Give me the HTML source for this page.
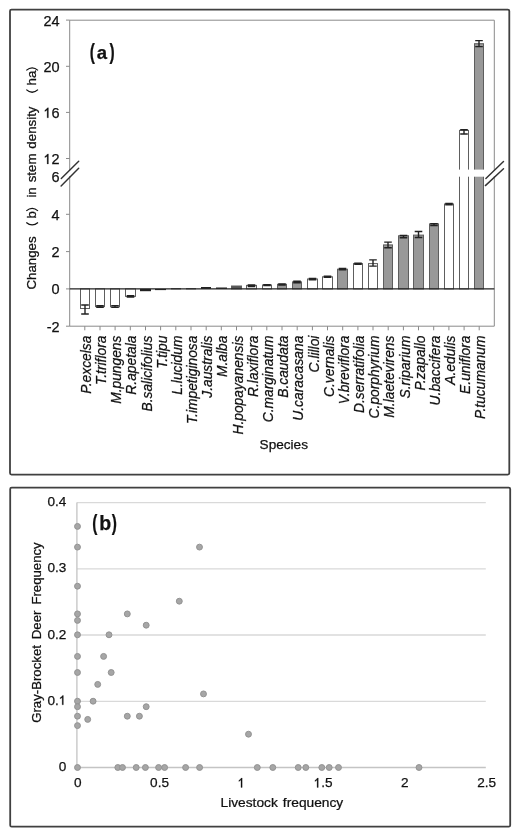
<!DOCTYPE html><html><head><meta charset="utf-8"><style>html,body{margin:0;padding:0;background:#fff;width:520px;height:837px;overflow:hidden;position:relative;font-family:"Liberation Sans",sans-serif}</style></head><body><svg width="520" height="837" viewBox="0 0 520 837" style="position:absolute;left:0;top:0;filter:grayscale(1) blur(0.3px)">
<style>text{stroke:#111;stroke-width:0.25px;}</style>
<rect x="0" y="0" width="520" height="837" fill="#fff"/>
<rect x="10" y="9.6" width="499.3" height="465" rx="1.5" fill="none" stroke="#404040" stroke-width="1.8"/>
<rect x="10.2" y="487.6" width="500" height="339.1" rx="1.5" fill="none" stroke="#404040" stroke-width="1.8"/>
<g stroke="#8a8a8a" stroke-width="1" fill="none">
<path d="M69.7 20.2 H494.3 V326.2 H69.7 Z"/>
<path d="M66 20.1 H69.7"/>
<path d="M66 66.3 H69.7"/>
<path d="M66 112.4 H69.7"/>
<path d="M66 158.5 H69.7"/>
<path d="M66 214.3 H69.7"/>
<path d="M66 251.6 H69.7"/>
<path d="M66 288.9 H69.7"/>
<path d="M66 326.2 H69.7"/>
<path d="M84.8 326.2 V330.3"/>
<path d="M100.0 326.2 V330.3"/>
<path d="M115.1 326.2 V330.3"/>
<path d="M130.3 326.2 V330.3"/>
<path d="M145.5 326.2 V330.3"/>
<path d="M160.6 326.2 V330.3"/>
<path d="M175.8 326.2 V330.3"/>
<path d="M191.0 326.2 V330.3"/>
<path d="M206.2 326.2 V330.3"/>
<path d="M221.3 326.2 V330.3"/>
<path d="M236.5 326.2 V330.3"/>
<path d="M251.7 326.2 V330.3"/>
<path d="M266.8 326.2 V330.3"/>
<path d="M282.0 326.2 V330.3"/>
<path d="M297.2 326.2 V330.3"/>
<path d="M312.4 326.2 V330.3"/>
<path d="M327.5 326.2 V330.3"/>
<path d="M342.7 326.2 V330.3"/>
<path d="M357.9 326.2 V330.3"/>
<path d="M373.0 326.2 V330.3"/>
<path d="M388.2 326.2 V330.3"/>
<path d="M403.4 326.2 V330.3"/>
<path d="M418.5 326.2 V330.3"/>
<path d="M433.7 326.2 V330.3"/>
<path d="M448.9 326.2 V330.3"/>
<path d="M464.1 326.2 V330.3"/>
<path d="M479.2 326.2 V330.3"/>
</g>
<rect x="80.5" y="288.9" width="9.0" height="19.6" fill="#fff" stroke="#5e5e5e" stroke-width="1"/>
<path d="M81.2 305.0 H88.8 M85.0 305.0 V314.0 M81.2 314.0 H88.8" stroke="#222" stroke-width="1.4" fill="none"/>
<rect x="95.5" y="288.9" width="9.0" height="17.7" fill="#fff" stroke="#5e5e5e" stroke-width="1"/>
<path d="M96.2 305.6 H103.8 M100.0 305.6 V307.2 M96.2 307.2 H103.8" stroke="#222" stroke-width="1.4" fill="none"/>
<rect x="110.5" y="288.9" width="9.0" height="17.9" fill="#fff" stroke="#5e5e5e" stroke-width="1"/>
<path d="M111.2 305.6 H118.8 M115.0 305.6 V307.4 M111.2 307.4 H118.8" stroke="#222" stroke-width="1.4" fill="none"/>
<rect x="125.5" y="288.9" width="10.0" height="7.5" fill="#fff" stroke="#5e5e5e" stroke-width="1"/>
<path d="M126.7 295.6 H134.3 M130.5 295.6 V297.0 M126.7 297.0 H134.3" stroke="#222" stroke-width="1.4" fill="none"/>
<rect x="140.0" y="288.9" width="11.0" height="2.3" fill="#222"/>
<rect x="155.0" y="288.9" width="11.0" height="1.2" fill="#222"/>
<rect x="171.0" y="288.3" width="10.0" height="1.0" fill="#222"/>
<rect x="186.0" y="288.3" width="10.0" height="1.0" fill="#222"/>
<rect x="201.0" y="287.0" width="10.0" height="1.9" fill="#222"/>
<rect x="216.0" y="287.5" width="11.0" height="1.4" fill="#222"/>
<rect x="231.5" y="286.0" width="10.0" height="2.9" fill="#555" stroke="#5e5e5e" stroke-width="1"/>
<rect x="246.5" y="285.4" width="10.0" height="3.5" fill="#fff" stroke="#5e5e5e" stroke-width="1"/>
<path d="M247.7 285.0 H255.3 M251.5 285.0 V286.5 M247.7 286.5 H255.3" stroke="#222" stroke-width="1.4" fill="none"/>
<rect x="262.5" y="285.0" width="9.0" height="3.9" fill="#fff" stroke="#5e5e5e" stroke-width="1"/>
<path d="M263.2 284.7 H270.8 M267.0 284.7 V285.5 M263.2 285.5 H270.8" stroke="#222" stroke-width="1.4" fill="none"/>
<rect x="277.5" y="284.3" width="9.0" height="4.6" fill="#999" stroke="#5e5e5e" stroke-width="1"/>
<path d="M278.2 283.9 H285.8 M282.0 283.9 V285.1 M278.2 285.1 H285.8" stroke="#222" stroke-width="1.4" fill="none"/>
<rect x="292.5" y="281.9" width="9.0" height="7.0" fill="#999" stroke="#5e5e5e" stroke-width="1"/>
<path d="M293.2 281.3 H300.8 M297.0 281.3 V282.7 M293.2 282.7 H300.8" stroke="#222" stroke-width="1.4" fill="none"/>
<rect x="307.5" y="279.0" width="10.0" height="9.9" fill="#fff" stroke="#5e5e5e" stroke-width="1"/>
<path d="M308.7 278.5 H316.3 M312.5 278.5 V279.7 M308.7 279.7 H316.3" stroke="#222" stroke-width="1.4" fill="none"/>
<rect x="322.5" y="276.8" width="10.0" height="12.1" fill="#fff" stroke="#5e5e5e" stroke-width="1"/>
<path d="M323.7 276.3 H331.3 M327.5 276.3 V277.4 M323.7 277.4 H331.3" stroke="#222" stroke-width="1.4" fill="none"/>
<rect x="337.5" y="269.2" width="10.0" height="19.7" fill="#999" stroke="#5e5e5e" stroke-width="1"/>
<path d="M338.7 268.5 H346.3 M342.5 268.5 V269.9 M338.7 269.9 H346.3" stroke="#222" stroke-width="1.4" fill="none"/>
<rect x="353.5" y="263.6" width="9.0" height="25.3" fill="#fff" stroke="#5e5e5e" stroke-width="1"/>
<path d="M354.2 263.1 H361.8 M358.0 263.1 V264.3 M354.2 264.3 H361.8" stroke="#222" stroke-width="1.4" fill="none"/>
<rect x="368.5" y="263.6" width="9.0" height="25.3" fill="#fff" stroke="#5e5e5e" stroke-width="1"/>
<path d="M369.2 259.9 H376.8 M373.0 259.9 V266.1 M369.2 266.1 H376.8" stroke="#222" stroke-width="1.4" fill="none"/>
<rect x="383.5" y="244.9" width="9.0" height="44.0" fill="#999" stroke="#5e5e5e" stroke-width="1"/>
<path d="M384.2 242.1 H391.8 M388.0 242.1 V247.7 M384.2 247.7 H391.8" stroke="#222" stroke-width="1.4" fill="none"/>
<rect x="398.5" y="235.8" width="10.0" height="53.1" fill="#999" stroke="#5e5e5e" stroke-width="1"/>
<path d="M399.7 235.5 H407.3 M403.5 235.5 V237.7 M399.7 237.7 H407.3" stroke="#222" stroke-width="1.4" fill="none"/>
<rect x="413.5" y="235.1" width="10.0" height="53.8" fill="#999" stroke="#5e5e5e" stroke-width="1"/>
<path d="M414.7 231.5 H422.3 M418.5 231.5 V237.5 M414.7 237.5 H422.3" stroke="#222" stroke-width="1.4" fill="none"/>
<rect x="429.5" y="223.9" width="9.0" height="65.0" fill="#999" stroke="#5e5e5e" stroke-width="1"/>
<path d="M430.2 223.6 H437.8 M434.0 223.6 V225.5 M430.2 225.5 H437.8" stroke="#222" stroke-width="1.4" fill="none"/>
<rect x="444.5" y="204.0" width="9.0" height="84.9" fill="#fff" stroke="#5e5e5e" stroke-width="1"/>
<path d="M445.2 203.5 H452.8 M449.0 203.5 V204.7 M445.2 204.7 H452.8" stroke="#222" stroke-width="1.4" fill="none"/>
<rect x="459.5" y="130.4" width="9.0" height="158.5" fill="#fff" stroke="#5e5e5e" stroke-width="1"/>
<path d="M460.2 129.8 H467.8 M464.0 129.8 V134.0 M460.2 134.0 H467.8" stroke="#222" stroke-width="1.4" fill="none"/>
<rect x="474.5" y="43.7" width="9.0" height="245.2" fill="#999" stroke="#5e5e5e" stroke-width="1"/>
<path d="M475.2 40.6 H482.8 M479.0 40.6 V46.6 M475.2 46.6 H482.8" stroke="#222" stroke-width="1.4" fill="none"/>
<rect x="455" y="169.6" width="34" height="7.1" fill="#fff"/>
<rect x="60" y="170.2" width="12" height="5.9" fill="#fff"/>
<rect x="490" y="170.2" width="8" height="5.9" fill="#fff"/>
<path d="M69.7 288.9 H494.3" stroke="#222" stroke-width="1.1"/>
<g stroke="#333" stroke-width="1.45" stroke-linecap="round">
<path d="M61.3 178.4 L78.7 161.3 M61.1 186 L78.7 168.3"/>
<path d="M485.9 178.4 L503.5 161.5 M485.4 185.6 L503.5 168.8"/>
</g>
<g font-family='"Liberation Sans", sans-serif' font-size="14.5" fill="#111" text-anchor="end">
<text x="43.47" y="25.54" text-anchor="start">24</text>
<text x="43.47" y="71.66" text-anchor="start">20</text>
<text x="43.47" y="117.78" text-anchor="start">&#8199;6</text>
<path transform="translate(43.47 117.78) scale(0.00708 -0.00708)" d="M696 0L516 0L516 1098Q403 1006 197 890L197 1057Q452 1227 579 1409L696 1409Z" fill="#111" stroke="#111" stroke-width="35.3"/>
<text x="43.47" y="163.90" text-anchor="start">&#8199;2</text>
<path transform="translate(43.47 163.90) scale(0.00708 -0.00708)" d="M696 0L516 0L516 1098Q403 1006 197 890L197 1057Q452 1227 579 1409L696 1409Z" fill="#111" stroke="#111" stroke-width="35.3"/>
<text x="51.54" y="182.40" text-anchor="start">6</text>
<text x="51.54" y="219.70" text-anchor="start">4</text>
<text x="51.54" y="257.00" text-anchor="start">2</text>
<text x="51.54" y="294.30" text-anchor="start">0</text>
<text x="46.71" y="331.60" text-anchor="start">-2</text>
</g>
<g font-family='"Liberation Sans", sans-serif' font-size="13.8" font-style="italic" fill="#111" text-anchor="end">
<text transform="translate(90.9 335.6) rotate(-90)">P.excelsa</text>
<text transform="translate(106.1 335.6) rotate(-90)">T.triflora</text>
<text transform="translate(121.2 335.6) rotate(-90)">M.pungens</text>
<text transform="translate(136.4 335.6) rotate(-90)">R.apetala</text>
<text transform="translate(151.6 335.6) rotate(-90)">B.salicifolius</text>
<text transform="translate(166.7 335.6) rotate(-90)">T.tipu</text>
<text transform="translate(181.9 335.6) rotate(-90)">L.lucidum</text>
<text transform="translate(197.1 335.6) rotate(-90)">T.impetiginosa</text>
<text transform="translate(212.3 335.6) rotate(-90)">J.australis</text>
<text transform="translate(227.4 335.6) rotate(-90)">M.alba</text>
<text transform="translate(242.6 335.6) rotate(-90)">H.popayanensis</text>
<text transform="translate(257.8 335.6) rotate(-90)">R.laxiflora</text>
<text transform="translate(272.9 335.6) rotate(-90)">C.marginatum</text>
<text transform="translate(288.1 335.6) rotate(-90)">B.caudata</text>
<text transform="translate(303.3 335.6) rotate(-90)">U.caracasana</text>
<text transform="translate(318.5 335.6) rotate(-90)">C.lilloi</text>
<text transform="translate(333.6 335.6) rotate(-90)">C.vernalis</text>
<text transform="translate(348.8 335.6) rotate(-90)">V.breviflora</text>
<text transform="translate(364.0 335.6) rotate(-90)">D.serratifolia</text>
<text transform="translate(379.1 335.6) rotate(-90)">C.porphyrium</text>
<text transform="translate(394.3 335.6) rotate(-90)">M.laetevirens</text>
<text transform="translate(409.5 335.6) rotate(-90)">S.riparium</text>
<text transform="translate(424.6 335.6) rotate(-90)">P.zapallo</text>
<text transform="translate(439.8 335.6) rotate(-90)">U.baccifera</text>
<text transform="translate(455.0 335.6) rotate(-90)">A.edulis</text>
<text transform="translate(470.2 335.6) rotate(-90)">E.uniflora</text>
<text transform="translate(485.3 335.6) rotate(-90)">P.tucumanum</text>
</g>
<text x="259.6" y="448.8" font-family='"Liberation Sans", sans-serif' font-size="13.6" fill="#111">Species</text>
<g font-family='"Liberation Sans", sans-serif' font-size="13.3" fill="#111">
<text transform="translate(35.9 289.6) rotate(-90)">Changes</text>
<text transform="translate(35.9 218.4) rotate(-90)">b</text>
<text transform="translate(35.9 197.6) rotate(-90)" word-spacing="1.2">in stem density</text>
<text transform="translate(35.9 85.4) rotate(-90)">ha</text>
</g>
<path d="M26.3 222.43 Q32.15 227.52 38 222.43" stroke="#111" stroke-width="1.25" fill="none"/>
<path d="M26.3 210.88 Q32.15 205.77 38 210.88" stroke="#111" stroke-width="1.25" fill="none"/>
<path d="M26.3 89.62 Q32.15 94.93 38 89.62" stroke="#111" stroke-width="1.25" fill="none"/>
<path d="M26.3 70.38 Q32.15 65.28 38 70.38" stroke="#111" stroke-width="1.25" fill="none"/>
<g font-family='"Liberation Sans", sans-serif' font-weight="bold" fill="#111" style="stroke-width:0.5px">
<text transform="translate(89.8 58.8) scale(0.72 1)" font-size="21.5">(</text>
<text x="96.8" y="58.8" font-size="18.5">a</text>
<text transform="translate(109.4 58.8) scale(0.72 1)" font-size="21.5">)</text>
</g>
<g stroke="#d9d9d9" stroke-width="1.3">
<path d="M76.9 701.3 H485.8"/>
<path d="M76.9 635.0 H485.8"/>
<path d="M76.9 568.8 H485.8"/>
<path d="M76.9 502.6 H485.8"/>
</g>
<path d="M76.9 502.6 V767.5 H485.8" stroke="#c4c4c4" stroke-width="1.3" fill="none"/>
<g fill="#a6a6a6" stroke="#939393" stroke-width="1">
<circle cx="77.5" cy="526.4" r="2.95"/>
<circle cx="77.5" cy="547.1" r="2.95"/>
<circle cx="77.5" cy="586.2" r="2.95"/>
<circle cx="77.5" cy="613.9" r="2.95"/>
<circle cx="77.5" cy="620.4" r="2.95"/>
<circle cx="77.5" cy="634.8" r="2.95"/>
<circle cx="77.5" cy="656.4" r="2.95"/>
<circle cx="77.5" cy="672.5" r="2.95"/>
<circle cx="77.5" cy="701.2" r="2.95"/>
<circle cx="77.5" cy="706.7" r="2.95"/>
<circle cx="77.5" cy="716.2" r="2.95"/>
<circle cx="77.5" cy="725.6" r="2.95"/>
<circle cx="77.5" cy="767.5" r="2.95"/>
<circle cx="109.0" cy="634.8" r="2.95"/>
<circle cx="127.3" cy="613.9" r="2.95"/>
<circle cx="146.2" cy="625.2" r="2.95"/>
<circle cx="179.3" cy="601.2" r="2.95"/>
<circle cx="199.5" cy="547.1" r="2.95"/>
<circle cx="103.6" cy="656.4" r="2.95"/>
<circle cx="111.2" cy="672.5" r="2.95"/>
<circle cx="97.7" cy="684.4" r="2.95"/>
<circle cx="93.1" cy="701.2" r="2.95"/>
<circle cx="146.2" cy="706.7" r="2.95"/>
<circle cx="127.3" cy="716.2" r="2.95"/>
<circle cx="139.4" cy="716.2" r="2.95"/>
<circle cx="87.7" cy="719.4" r="2.95"/>
<circle cx="203.5" cy="693.9" r="2.95"/>
<circle cx="248.5" cy="734.2" r="2.95"/>
<circle cx="117.8" cy="767.5" r="2.95"/>
<circle cx="122.5" cy="767.5" r="2.95"/>
<circle cx="136.2" cy="767.5" r="2.95"/>
<circle cx="145.4" cy="767.5" r="2.95"/>
<circle cx="158.6" cy="767.5" r="2.95"/>
<circle cx="164.6" cy="767.5" r="2.95"/>
<circle cx="185.6" cy="767.5" r="2.95"/>
<circle cx="199.6" cy="767.5" r="2.95"/>
<circle cx="257.3" cy="767.5" r="2.95"/>
<circle cx="272.8" cy="767.5" r="2.95"/>
<circle cx="298.2" cy="767.5" r="2.95"/>
<circle cx="305.8" cy="767.5" r="2.95"/>
<circle cx="321.8" cy="767.5" r="2.95"/>
<circle cx="329.2" cy="767.5" r="2.95"/>
<circle cx="338.5" cy="767.5" r="2.95"/>
<circle cx="419.0" cy="767.5" r="2.95"/>
</g>
<g font-family='"Liberation Sans", sans-serif' font-size="13.6" fill="#111" text-anchor="end">
<text x="58.74" y="771.00" text-anchor="start">0</text>
<text x="47.39" y="704.77" text-anchor="start">0.&#8199;</text>
<path transform="translate(58.74 704.77) scale(0.00664 -0.00664)" d="M696 0L516 0L516 1098Q403 1006 197 890L197 1057Q452 1227 579 1409L696 1409Z" fill="#111" stroke="#111" stroke-width="37.6"/>
<text x="47.39" y="638.54" text-anchor="start">0.2</text>
<text x="47.39" y="572.31" text-anchor="start">0.3</text>
<text x="47.39" y="506.08" text-anchor="start">0.4</text>
</g>
<g font-family='"Liberation Sans", sans-serif' font-size="13.6" fill="#111" text-anchor="middle">
<text x="74.02" y="787.40" text-anchor="start">0</text>
<text x="150.11" y="787.40" text-anchor="start">0.5</text>
<text x="237.54" y="787.40" text-anchor="start">&#8199;</text>
<path transform="translate(237.54 787.40) scale(0.00664 -0.00664)" d="M696 0L516 0L516 1098Q403 1006 197 890L197 1057Q452 1227 579 1409L696 1409Z" fill="#111" stroke="#111" stroke-width="37.6"/>
<text x="313.63" y="787.40" text-anchor="start">&#8199;.5</text>
<path transform="translate(313.63 787.40) scale(0.00664 -0.00664)" d="M696 0L516 0L516 1098Q403 1006 197 890L197 1057Q452 1227 579 1409L696 1409Z" fill="#111" stroke="#111" stroke-width="37.6"/>
<text x="401.06" y="787.40" text-anchor="start">2</text>
<text x="477.15" y="787.40" text-anchor="start">2.5</text>
</g>
<g font-family='"Liberation Sans", sans-serif' fill="#111">
<text transform="translate(220.5 807.2) scale(1.035 1)" font-size="13.3" word-spacing="1.2">Livestock frequency</text>
<text transform="translate(41.1 722.8) rotate(-90)" font-size="13.2" word-spacing="2.3">Gray-Brocket Deer Frequency</text>
</g>
<g font-family='"Liberation Sans", sans-serif' font-weight="bold" fill="#111" style="stroke-width:0.5px">
<text transform="translate(92.2 529.8) scale(0.72 1)" font-size="21.5">(</text>
<text x="99.2" y="529.8" font-size="19.5">b</text>
<text transform="translate(111.80000000000001 529.8) scale(0.72 1)" font-size="21.5">)</text>
</g>
</svg></body></html>
